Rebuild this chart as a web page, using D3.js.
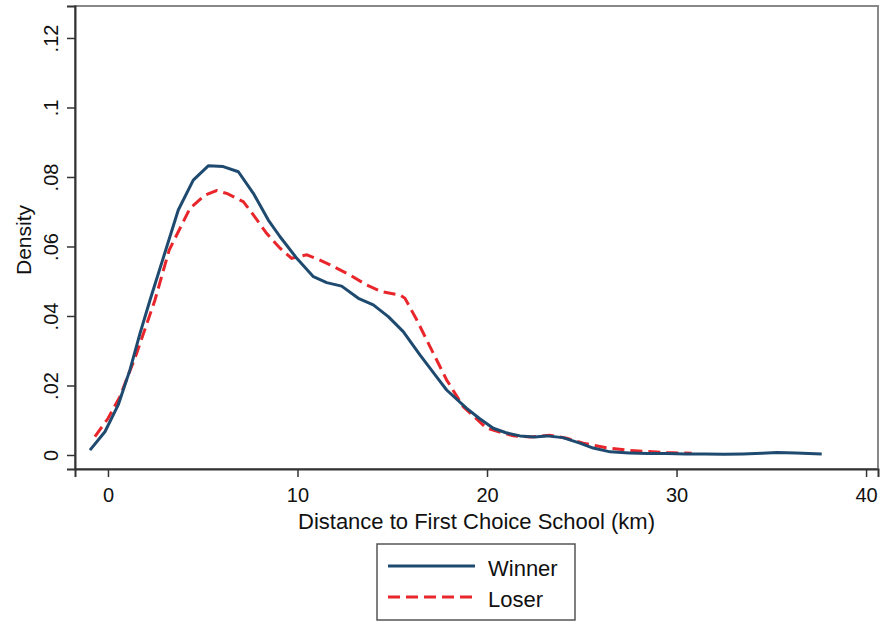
<!DOCTYPE html>
<html>
<head>
<meta charset="utf-8">
<script src="https://cdn.jsdelivr.net/npm/d3@7"></script>
<style>
  body { margin: 0; background: #fff; }
  text { font-family: "Liberation Sans", Arial, sans-serif; fill: #111; }
</style>
</head>
<body>
<div id="chart"></div>
<script>
// data
const winnerX = [-0.95, -0.16, 0.54, 1.16, 1.69, 2.22, 2.83, 3.71, 4.5, 5.29, 6.08, 6.88, 7.67, 8.46, 9.08,
  9.96, 10.84, 11.54, 12.33, 13.21, 14.0, 14.79, 15.58, 16.46, 17.34, 17.87, 18.93, 19.6, 20.33, 21.0,
  21.74, 22.5, 23.15, 24.0, 24.9, 25.6, 26.5, 27.5, 28.5, 29.5, 30.5, 31.5, 32.5, 33.5, 34.5, 35.3, 36.3, 37.66];
const winnerY = [0.0014, 0.0067, 0.0144, 0.0245, 0.035, 0.0446, 0.0552, 0.0705, 0.0791, 0.0832, 0.083, 0.0815, 0.0753, 0.0676, 0.0628,
  0.0566, 0.0513, 0.0496, 0.0486, 0.0451, 0.0432, 0.0398, 0.0355, 0.0288, 0.0225, 0.0187, 0.0134, 0.0105, 0.0077, 0.0064,
  0.0055, 0.0052, 0.0055, 0.005, 0.0034, 0.002, 0.0009, 0.0006, 0.0004, 0.0004, 0.0003, 0.0003, 0.0002, 0.0003, 0.0005, 0.0007, 0.0006, 0.0003];

const loserX = [-0.69, 0.0, 0.63, 1.45, 2.0, 2.48, 3.23, 4.33, 5.12, 5.73, 6.3, 7.14, 7.67, 8.37, 9.08, 9.69,
  10.49, 11.1, 11.72, 12.77, 13.65, 14.44, 15.41, 15.67, 16.29, 16.99, 17.87, 18.75, 19.98, 21.39, 22.3,
  23.3, 24.2, 25.08, 26.3, 27.37, 28.43, 29.5, 30.8];
const loserY = [0.0053, 0.0105, 0.0168, 0.0283, 0.037, 0.0446, 0.059, 0.071, 0.0748, 0.0761, 0.0752, 0.0729, 0.0691, 0.0638, 0.0595, 0.0566,
  0.0576, 0.0563, 0.0547, 0.0518, 0.0489, 0.047, 0.046, 0.0451, 0.0389, 0.0312, 0.0216, 0.0139, 0.0077, 0.0055, 0.0052,
  0.0057, 0.0048, 0.0034, 0.0021, 0.0014, 0.001, 0.0007, 0.0005];

const xTicks = [0, 10, 20, 30, 40];
const yTicks = [0, 0.02, 0.04, 0.06, 0.08, 0.1, 0.12];
const yTickLabels = ["0", ".02", ".04", ".06", ".08", ".1", ".12"];
const seriesNames = ["Winner", "Loser"];

const svg = d3.select("#chart").append("svg")
  .attr("width", 882)
  .attr("height", 624);

// plot region
const plotL = 75, plotR = 878, plotT = 6, plotB = 469;

const x = d3.scaleLinear().domain([-1.74, 40.63]).range([plotL, plotR]);
const y = d3.scaleLinear().domain([-0.00403, 0.1292]).range([plotB, plotT]);

// outer frame (light)
svg.append("rect")
  .attr("x", plotL).attr("y", plotT)
  .attr("width", plotR - plotL).attr("height", plotB - plotT)
  .attr("fill", "none").attr("stroke", "#888").attr("stroke-width", 2);

// y axis
const yAxis = svg.append("g")
  .attr("transform", `translate(${plotL},0)`)
  .call(d3.axisLeft(y).tickValues(yTicks).tickSize(8).tickFormat((d, i) => yTickLabels[i]));
yAxis.select(".domain").attr("stroke", "#333").attr("stroke-width", 2);
yAxis.selectAll(".tick line").attr("stroke", "#333").attr("stroke-width", 1.5);
yAxis.selectAll(".tick text")
  .attr("x", 0).attr("dy", 0)
  .attr("transform", "translate(-17,0) rotate(-90)")
  .attr("text-anchor", "middle")
  .style("font-size", "20px").style("font-family", "Liberation Sans, Arial, sans-serif").attr("fill", "#111");

// x axis
const xAxis = svg.append("g")
  .attr("transform", `translate(0,${plotB})`)
  .call(d3.axisBottom(x).tickValues(xTicks).tickSize(8).tickFormat(d3.format("d")));
xAxis.select(".domain").attr("stroke", "#333").attr("stroke-width", 2);
xAxis.selectAll(".tick line").attr("stroke", "#333").attr("stroke-width", 1.5);
xAxis.selectAll(".tick text")
  .attr("y", 33).attr("dy", 0)
  .style("font-size", "20px").style("font-family", "Liberation Sans, Arial, sans-serif").attr("fill", "#111");

// axis titles
svg.append("text")
  .attr("x", (plotL + plotR) / 2).attr("y", 529)
  .attr("text-anchor", "middle")
  .style("font-size", "22px")
  .text("Distance to First Choice School (km)");

svg.append("text")
  .attr("transform", "translate(31,240) rotate(-90)")
  .attr("text-anchor", "middle")
  .style("font-size", "21px")
  .text("Density");

// lines
const line = d3.line().x((d) => x(d[0])).y((d) => y(d[1]));
const winner = winnerX.map((v, i) => [v, winnerY[i]]);
const loser = loserX.map((v, i) => [v, loserY[i]]);

svg.append("path")
  .datum(loser)
  .attr("d", line)
  .attr("fill", "none")
  .attr("stroke", "#e8262b")
  .attr("stroke-width", 3)
  .attr("stroke-dasharray", "12,6");

svg.append("path")
  .datum(winner)
  .attr("d", line)
  .attr("fill", "none")
  .attr("stroke", "#1f4a70")
  .attr("stroke-width", 3)
  .attr("stroke-linejoin", "round");

// legend
const legend = svg.append("g");
legend.append("rect")
  .attr("x", 377).attr("y", 544)
  .attr("width", 198).attr("height", 76)
  .attr("fill", "#fff").attr("stroke", "#555").attr("stroke-width", 1.5);

const legendItems = [
  { name: seriesNames[0], color: "#1f4a70", dash: null, y: 566 },
  { name: seriesNames[1], color: "#e8262b", dash: "12,6", y: 597 }
];
legendItems.forEach(function (d) {
  legend.append("line")
    .attr("x1", 388).attr("x2", 475)
    .attr("y1", d.y).attr("y2", d.y)
    .attr("stroke", d.color).attr("stroke-width", 3)
    .attr("stroke-dasharray", d.dash);
  legend.append("text")
    .attr("x", 488).attr("y", d.y + 10)
    .style("font-size", "22px")
    .text(d.name);
});
</script>
</body>
</html>
